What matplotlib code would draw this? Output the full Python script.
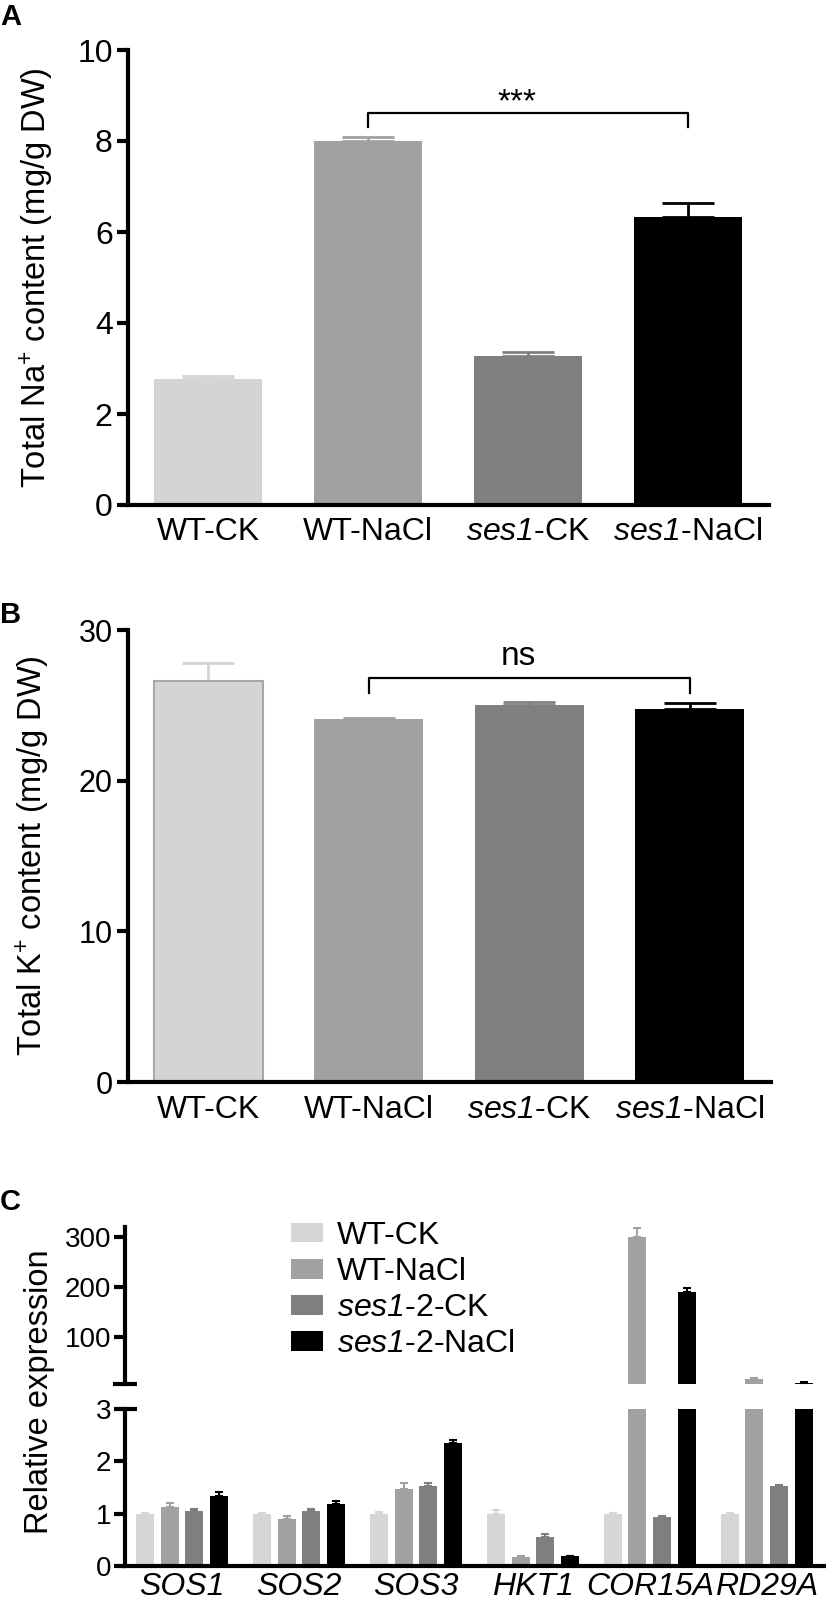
import numpy as np
import matplotlib
matplotlib.use("Agg")
import matplotlib.pyplot as plt

# ==========================================================
# FONTS
# ==========================================================
plt.rcParams['font.family'] = ['Liberation Sans', 'DejaVu Sans']
plt.rcParams['mathtext.fontset'] = 'custom'
plt.rcParams['mathtext.rm'] = 'Liberation Sans'
plt.rcParams['mathtext.it'] = 'Liberation Sans:italic'
# sf slot used for italic text that contains digits (ses1)
plt.rcParams['mathtext.sf'] = 'Liberation Sans:italic'
plt.rcParams['mathtext.default'] = 'regular'

# ==========================================================
# DATA
# ==========================================================
groups = ['WT-CK', 'WT-NaCl', r'$\mathsf{ses1}$-CK', r'$\mathsf{ses1}$-NaCl']
group_colors = ['#d4d4d4', '#a1a1a1', '#808080', '#000000']

na_mean = [2.77, 8.00, 3.27, 6.33]
na_err = [0.07, 0.09, 0.10, 0.31]

k_mean = [26.6, 24.1, 25.0, 24.75]
k_err = [1.2, 0.08, 0.2, 0.4]

genes = ['SOS1', 'SOS2', 'SOS3', 'HKT1', 'COR15A', 'RD29A']
series = ['WT-CK', 'WT-NaCl', r'$\mathsf{ses1}$-2-CK', r'$\mathsf{ses1}$-2-NaCl']
series_colors = ['#d6d6d6', '#a1a1a1', '#7f7f7f', '#000000']

wt_ck = [1.00, 1.00, 1.00, 1.00, 1.00, 1.00]
wt_ck_err = [0.01, 0.02, 0.03, 0.07, 0.02, 0.02]
wt_nacl = [1.13, 0.89, 1.47, 0.17, 300, 17]
wt_nacl_err = [0.08, 0.06, 0.11, 0.015, 18, 0.5]
ses_ck = [1.05, 1.06, 1.53, 0.56, 0.93, 1.53]
ses_ck_err = [0.03, 0.02, 0.05, 0.06, 0.03, 0.01]
ses_nacl = [1.33, 1.19, 2.35, 0.19, 190, 9]
ses_nacl_err = [0.09, 0.05, 0.05, 0.01, 9, 0.3]

expr_means = [wt_ck, wt_nacl, ses_ck, ses_nacl]
expr_errs = [wt_ck_err, wt_nacl_err, ses_ck_err, ses_nacl_err]

# ==========================================================
# FIGURE
# ==========================================================
W, H = 826, 1599
fig = plt.figure(figsize=(W / 100, H / 100), dpi=100)


def px_axes(left, right, top, bottom):
    return fig.add_axes([left / W, 1 - bottom / H, (right - left) / W, (bottom - top) / H])


def style_axes(ax, lw=3.0):
    for s in ['top', 'right']:
        ax.spines[s].set_visible(False)
    for s in ['left', 'bottom']:
        ax.spines[s].set_linewidth(lw)
    ax.tick_params(axis='y', length=8, width=lw, pad=3, labelsize=23)
    ax.tick_params(axis='x', length=0, pad=9, labelsize=23)


def simple_bars(ax, means, errs, edge=None):
    x = np.arange(len(means))
    for i in range(len(means)):
        ec = edge[i] if edge else 'none'
        ax.bar(x[i], means[i], width=0.68, color=group_colors[i],
               edgecolor=ec, linewidth=1.5 if edge else 0, zorder=2)
        ax.errorbar(x[i], means[i], yerr=[[0], [errs[i]]], fmt='none',
                    ecolor=group_colors[i] if i < 3 else 'k',
                    elinewidth=2, capsize=19, capthick=2, zorder=1)
    ax.set_xticks(x)
    ax.set_xticklabels(groups)
    ax.set_xlim(-0.5, 3.506)


def bracket(ax, x1, x2, y_top, y_low, label, dy_text):
    ax.plot([x1, x1, x2, x2], [y_low, y_top, y_top, y_low], color='k', lw=1.6)
    ax.text((x1 + x2) / 2 - 0.07, y_top + dy_text, label, ha='center',
            va='center', fontsize=24)


# ==========================================================
# PANEL A
# ==========================================================
axA = px_axes(128, 769, 50, 505)
style_axes(axA)
simple_bars(axA, na_mean, na_err)
axA.set_ylim(0, 10)
axA.set_yticks([0, 2, 4, 6, 8, 10])
axA.set_ylabel(r'Total Na$^{+}$ content (mg/g DW)', fontsize=23.5)
axA.yaxis.set_label_coords(-0.112, 0.5)
bracket(axA, 1, 3, 8.62, 8.31, '***', 0.22)

# ==========================================================
# PANEL B
# ==========================================================
axB = px_axes(128, 771, 630, 1082)
style_axes(axB)
simple_bars(axB, k_mean, k_err, edge=['#a8a8a8', 'none', 'none', 'none'])
axB.set_ylim(0, 30)
axB.set_yticks([0, 10, 20, 30])
axB.tick_params(axis='y', labelsize=22)
axB.set_ylabel(r'Total K$^{+}$ content (mg/g DW)', fontsize=23.5)
axB.yaxis.set_label_coords(-0.118, 0.5)
bracket(axB, 1, 3, 26.8, 25.8, 'ns', 1.45)

# ==========================================================
# PANEL C (broken y axis)
# ==========================================================
axC_up = px_axes(125, 824, 1227, 1384)
axC_lo = px_axes(125, 824, 1409, 1566)

xg = np.arange(len(genes))
offsets = [-1.5, -0.5, 0.5, 1.5]
bar_handles = []
for i in range(4):
    xs = xg + offsets[i] * 0.21
    means = np.array(expr_means[i])
    errs = np.array(expr_errs[i])

    # lower segment: everything, clipped at 3
    b = axC_lo.bar(xs, means, width=0.154, color=series_colors[i], zorder=2)
    axC_lo.errorbar(xs, means, yerr=[np.zeros(len(genes)), errs],
                    fmt='none', ecolor=series_colors[i], elinewidth=1.5,
                    capsize=3, capthick=1.5, zorder=1)
    bar_handles.append(b)

    # upper segment: only the tall ones
    big = means > 3
    axC_up.bar(xs[big], means[big], width=0.154, color=series_colors[i], zorder=2)
    axC_up.errorbar(xs[big], means[big], yerr=[np.zeros(big.sum()), errs[big]],
                    fmt='none', ecolor=series_colors[i], elinewidth=1.5,
                    capsize=3, capthick=1.5, zorder=1)

for ax in [axC_up, axC_lo]:
    ax.set_xlim(-0.487, 5.49)
    for s in ['top', 'right']:
        ax.spines[s].set_visible(False)
    ax.spines['left'].set_linewidth(3)
    ax.tick_params(axis='y', length=8, width=3, pad=2, labelsize=20)
axC_up.spines['bottom'].set_visible(False)
axC_lo.spines['bottom'].set_linewidth(3)

axC_up.set_ylim(6, 320)
axC_up.set_yticks([100, 200, 300])
axC_up.set_xticks([])

axC_lo.set_ylim(0, 3)
axC_lo.set_yticks([0, 1, 2, 3])
axC_lo.set_xticks(xg)
axC_lo.set_xticklabels(genes, fontstyle='italic')
axC_lo.tick_params(axis='x', length=0, pad=4, labelsize=23)

# break marks
axC_up.plot([-0.017, 0.017], [0, 0], transform=axC_up.transAxes,
            clip_on=False, color='k', lw=3, solid_capstyle='butt')
axC_lo.plot([0, 0.017], [1, 1], transform=axC_lo.transAxes,
            clip_on=False, color='k', lw=3, solid_capstyle='butt')

fig.text(40 / W, 1 - 1392 / H, 'Relative expression', rotation=90,
         ha='center', va='center', fontsize=23.5)

fig.legend(bar_handles, series, loc='upper left',
           bbox_to_anchor=(291 / W, 1 - 1221 / H), frameon=False,
           fontsize=23, handlelength=1.0, handleheight=0.56,
           handletextpad=0.44, labelspacing=0.19, borderpad=0,
           borderaxespad=0)

# ==========================================================
# PANEL LABELS
# ==========================================================
fig.text(0.0, 1 - 17 / H, 'A', fontsize=21, fontweight='bold', va='center')
fig.text(0.0, 1 - 615 / H, 'B', fontsize=21, fontweight='bold', va='center')
fig.text(0.0, 1 - 1202 / H, 'C', fontsize=21, fontweight='bold', va='center')

fig.savefig('out.png', dpi=100)
